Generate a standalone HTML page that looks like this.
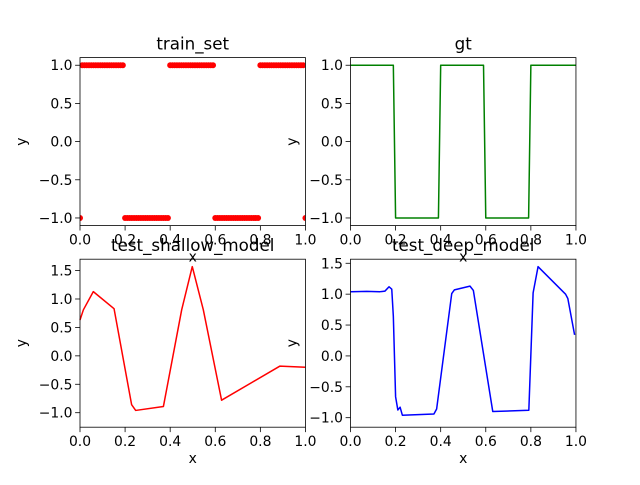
<!DOCTYPE html>
<html><head><meta charset="utf-8">
<style>
body{margin:0;background:#fff;}
svg text{font-family:"DejaVu Sans","Liberation Sans",sans-serif;fill:#000;}
</style></head>
<body>
<svg id="fig" width="640" height="480" viewBox="0 0 640 480" xmlns="http://www.w3.org/2000/svg"></svg>
<script>
const trainX=[0,0.01,0.02,0.03,0.04,0.05,0.06,0.07,0.08,0.09,0.1,0.11,0.12,0.13,0.14,0.15,0.16,0.17,0.18,0.19,0.2,0.21,0.22,0.23,0.24,0.25,0.26,0.27,0.28,0.29,0.3,0.31,0.32,0.33,0.34,0.35,0.36,0.37,0.38,0.39,0.4,0.41,0.42,0.43,0.44,0.45,0.46,0.47,0.48,0.49,0.5,0.51,0.52,0.53,0.54,0.55,0.56,0.57,0.58,0.59,0.6,0.61,0.62,0.63,0.64,0.65,0.66,0.67,0.68,0.69,0.7,0.71,0.72,0.73,0.74,0.75,0.76,0.77,0.78,0.79,0.8,0.81,0.82,0.83,0.84,0.85,0.86,0.87,0.88,0.89,0.9,0.91,0.92,0.93,0.94,0.95,0.96,0.97,0.98,0.99,1];
const trainY=[-1,1,1,1,1,1,1,1,1,1,1,1,1,1,1,1,1,1,1,1,-1,-1,-1,-1,-1,-1,-1,-1,-1,-1,-1,-1,-1,-1,-1,-1,-1,-1,-1,-1,1,1,1,1,1,1,1,1,1,1,1,1,1,1,1,1,1,1,1,1,-1,-1,-1,-1,-1,-1,-1,-1,-1,-1,-1,-1,-1,-1,-1,-1,-1,-1,-1,-1,1,1,1,1,1,1,1,1,1,1,1,1,1,1,1,1,1,1,1,1,-1];
const gtX=[0,0.19,0.2,0.39,0.4,0.59,0.6,0.79,0.8,1];
const gtY=[1,1,-1,-1,1,1,-1,-1,1,1];
const shallowX=[0,0.015,0.059,0.151,0.229,0.247,0.37,0.451,0.498,0.547,0.628,0.887,1];
const shallowY=[0.63,0.81,1.13,0.83,-0.86,-0.96,-0.89,0.81,1.57,0.81,-0.78,-0.18,-0.2];
const deepX=[0,0.072,0.131,0.153,0.171,0.183,0.19,0.2,0.21,0.22,0.23,0.37,0.382,0.449,0.461,0.53,0.545,0.631,0.791,0.81,0.832,0.954,0.964,0.994];
const deepY=[1.04,1.045,1.04,1.05,1.12,1.08,0.64,-0.66,-0.875,-0.83,-0.96,-0.94,-0.86,1.01,1.07,1.13,1.06,-0.9,-0.88,1.02,1.445,1.0,0.93,0.34];
const xTicks=[0,0.2,0.4,0.6,0.8,1.0];
const xTickLabels=["0.0","0.2","0.4","0.6","0.8","1.0"];
const yTicksTop=[-1,-0.5,0,0.5,1];
const yTickLabelsTop=["−1.0","−0.5","0.0","0.5","1.0"];
const yTicksBot=[-1,-0.5,0,0.5,1,1.5];
const yTickLabelsBot=["−1.0","−0.5","0.0","0.5","1.0","1.5"];

const NS="http://www.w3.org/2000/svg";
const svg=document.getElementById('fig');
function mk(tag,attrs,parent){const e=document.createElementNS(NS,tag);for(const k in attrs)e.setAttribute(k,attrs[k]);(parent||svg).appendChild(e);return e;}

function panel(name,L,T,W,H,ymin,ymax,yt,ytl,title){
  const g=mk('g',{});
  
  
  const sx=v=>L+(v-0)/(1-0)*W;
  const sy=v=>T+H-(v-ymin)/(ymax-ymin)*H;
  xTicks.forEach((t,i)=>{
    const l=mk('line',{x1:sx(t),x2:sx(t),y1:T+H,y2:T+H+4.9,stroke:'#000','stroke-width':0.8},g);
    
    
    const tx=mk('text',{x:sx(t),y:T+H+19,'font-size':13.9,'text-anchor':'middle'},g);
    
    
    tx.textContent=xTickLabels[i];
  });
  yt.forEach((t,i)=>{
    const l=mk('line',{x1:L-4.9,x2:L,y1:sy(t),y2:sy(t),stroke:'#000','stroke-width':0.8},g);
    
    
    const tx=mk('text',{x:L-7.5,y:sy(t)+5,'font-size':13.9,'text-anchor':'end'},g);
    
    
    tx.textContent=ytl[i];
  });
  const xl=mk('text',{x:L+W/2,y:T+H+36,'font-size':13.9,'text-anchor':'middle'},g);
  
  
  xl.textContent='x';
  const yl=mk('text',{x:0,y:0,'font-size':13.9,'text-anchor':'middle',transform:`translate(${L-54},${T+H/2}) rotate(-90)`},g);
  
  
  yl.textContent='y';
  return {g,sx,sy,L,T,W,H,title};
}
function finish(p){
  const r=mk('rect',{x:p.L,y:p.T,width:p.W,height:p.H,fill:'none',stroke:'#000','stroke-width':0.8},p.g);
  
  
  const t=mk('text',{x:p.L+p.W/2,y:p.T-8,'font-size':16.7,'text-anchor':'middle'});
  
  
  t.textContent=p.title;
}
function line(p,xs,ys,color,name){
  const d=xs.map((x,i)=>(i?'L':'M')+p.sx(x).toFixed(2)+','+p.sy(ys[i]).toFixed(2)).join('');
  const e=mk('path',{d:d,fill:'none',stroke:color,'stroke-width':1.5,'stroke-linejoin':'round'},p.g);
  
  
}
const L1=80,L2=350.5,W=225.45,T1=57.6,T2=259.2,H=168;
const p1=panel('train-set',L1,T1,W,H,-1.1,1.1,yTicksTop,yTickLabelsTop,'train_set');
const p2=panel('gt',L2,T1,W,H,-1.1,1.1,yTicksTop,yTickLabelsTop,'gt');
const p3=panel('test-shallow-model',L1,T2,W,H,-1.255,1.70,yTicksBot,yTickLabelsBot,'test_shallow_model');
const p4=panel('test-deep-model',L2,T2,W,H,-1.154,1.566,yTicksBot,yTickLabelsBot,'test_deep_model');
const clip=mk('clipPath',{id:'c1'});mk('rect',{x:L1,y:T1,width:W,height:H},clip);
const pg=mk('g',{'clip-path':'url(#c1)'},p1.g);


trainX.forEach((x,i)=>{
  const c=mk('circle',{cx:p1.sx(x),cy:p1.sy(trainY[i]),r:3,fill:'#ff0000'},pg);
  
  
});
line(p2,gtX,gtY,'#008000','gt-line');
line(p3,shallowX,shallowY,'#ff0000','shallow-line');
line(p4,deepX,deepY,'#0000ff','deep-line');
[p1,p2,p3,p4].forEach(finish);
</script>
</body></html>
